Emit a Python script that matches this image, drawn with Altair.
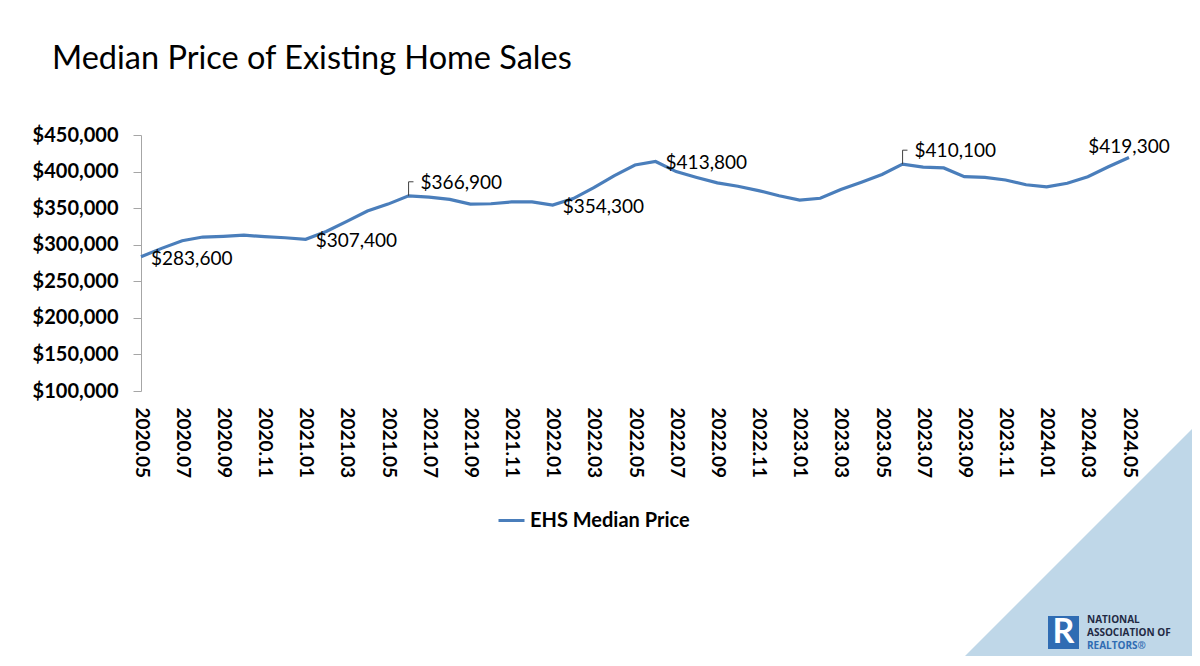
import altair as alt
import pandas as pd

# ---- data ----
months = [f"{y}.{m:02d}" for y in range(2020, 2025) for m in range(1, 13)
          if (y, m) >= (2020, 5) and (y, m) <= (2024, 5)]

prices = [
    283600, 295000, 305500, 310500, 311500, 313000, 311000, 309500,          # 2020.05-2020.12
    307400, 318000, 332000, 346000, 355500, 366900, 365000, 362000,          # 2021.01-2021.08
    355500, 356000, 358500, 358500,                                          # 2021.09-2021.12
    354300, 363000, 378000, 394500, 409000, 413800, 400000, 392000,          # 2022.01-2022.08
    384500, 380000, 374000, 367000,                                          # 2022.09-2022.12
    361000, 363500, 375500, 385500, 396000, 410100, 406000, 405000,          # 2023.01-2023.08
    393000, 392000, 388500, 382000,                                          # 2023.09-2023.12
    379000, 384000, 393000, 406500, 419300,                                  # 2024.01-2024.05
]

series_name = "EHS Median Price"
label_right = ["2020.05", "2021.01", "2022.01", "2022.06"]
label_leader = ["2021.06", "2023.06"]
label_above = ["2024.05"]
tick_labels = months[::2]
y_ticks = [100000, 150000, 200000, 250000, 300000, 350000, 400000, 450000]

df = pd.DataFrame({"month": months, "price": prices})
df["series"] = series_name
df["label"] = ["${:,}".format(p) for p in prices]

FONT = "Lato"
LINE_COLOR = "#4A7EBB"

x_enc = alt.X(
    "month:O",
    sort=months,
    scale=alt.Scale(type="point", padding=0),
    axis=alt.Axis(
        values=tick_labels, title=None, domain=False, ticks=False, tickSize=0,
        labelAngle=90, labelFontSize=19, labelFontWeight="bold", labelFont=FONT,
        labelColor="#000000", labelPadding=16,
    ),
)
y_enc = alt.Y(
    "price:Q",
    scale=alt.Scale(domain=[100000, 450000], nice=False, zero=False),
    axis=alt.Axis(
        values=y_ticks, format="$,.0f", title=None, grid=False,
        domainColor="#A6A6A6", tickColor="#A6A6A6", tickSize=8,
        labelFontSize=20, labelFontWeight="bold", labelFont=FONT,
        labelColor="#000000", labelPadding=15,
    ),
)

base = alt.Chart(df).encode(x=x_enc, y=y_enc)

# decorative background triangle and logo
deco = pd.DataFrame({"d": [0]})
triangle = alt.Chart(deco).mark_point(
    shape="M1,-1L1,1L-1,1Z", size=60025, filled=True, fill="#BFD7E8",
    strokeWidth=0, opacity=1,
).encode(x=alt.value(936.5), y=alt.value(408.5))

logo_box = alt.Chart(deco).mark_rect(color="#2F6CB3").encode(
    x=alt.value(907), x2=alt.value(938), y=alt.value(481), y2=alt.value(514)
)
logo_r = alt.Chart(deco).mark_text(
    text="R", font=FONT, fontSize=34, fontWeight="bold", color="#FFFFFF",
    align="center", baseline="middle",
).encode(x=alt.value(922.5), y=alt.value(498))
logo_t1 = alt.Chart(deco).mark_text(
    text="NATIONAL", font="Open Sans", fontSize=10, fontWeight="bold",
    color="#1F2A44", align="left", baseline="middle",
).encode(x=alt.value(946), y=alt.value(485))
logo_t2 = alt.Chart(deco).mark_text(
    text="ASSOCIATION OF", font="Open Sans", fontSize=10, fontWeight="bold",
    color="#1F2A44", align="left", baseline="middle",
).encode(x=alt.value(946), y=alt.value(498))
logo_t3 = alt.Chart(deco).mark_text(
    text="REALTORS®", font="Open Sans", fontSize=10, fontWeight="bold",
    color="#2F6CB3", align="left", baseline="middle",
).encode(x=alt.value(946), y=alt.value(511))

line = base.mark_line(strokeWidth=3.2).encode(
    color=alt.Color(
        "series:N",
        scale=alt.Scale(range=[LINE_COLOR]),
        legend=alt.Legend(
            orient="none", legendX=356, legendY=371, title=None, padding=0,
            symbolType="stroke", symbolStrokeWidth=3, symbolSize=676,
            labelFont=FONT, labelFontSize=20, labelFontWeight="bold",
            labelColor="#000000", labelOffset=4,
        ),
    )
)

txt_right = base.transform_filter(
    alt.FieldOneOfPredicate(field="month", oneOf=label_right)
).mark_text(align="left", baseline="middle", dx=10, dy=2, font=FONT,
            fontSize=19, color="#000000").encode(text="label:N")

txt_leader = base.transform_filter(
    alt.FieldOneOfPredicate(field="month", oneOf=label_leader)
).mark_text(align="left", baseline="middle", dx=12, dy=-13, font=FONT,
            fontSize=19, color="#000000").encode(text="label:N")

leader = base.transform_filter(
    alt.FieldOneOfPredicate(field="month", oneOf=label_leader)
).mark_point(shape="M0,0L0,-1L0.35,-1", size=784, filled=False,
             stroke="#404040", strokeWidth=1, opacity=1)

txt_above = base.transform_filter(
    alt.FieldOneOfPredicate(field="month", oneOf=label_above)
).mark_text(align="center", baseline="middle", dy=-10, font=FONT,
            fontSize=19, color="#000000").encode(text="label:N")

chart = alt.layer(
    triangle, logo_box, logo_r, logo_t1, logo_t2, logo_t3,
    line, leader, txt_right, txt_leader, txt_above,
).properties(
    width=988,
    height=256,
    autosize="none",
    padding={"left": 133, "top": 127, "right": 63, "bottom": 265},
    background="#FFFFFF",
    title=alt.TitleParams(
        "Median Price of Existing Home Sales", anchor="start", frame="group",
        font=FONT, fontSize=32.5, fontWeight="normal", color="#000000",
        dx=-89, offset=50,
    ),
).configure_view(stroke=None)

chart.save("out.html", embed_options={"renderer": "svg", "actions": False})
